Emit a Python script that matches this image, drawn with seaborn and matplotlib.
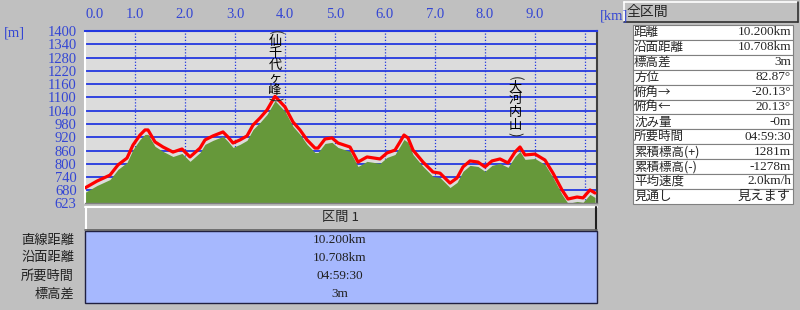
import numpy as np
import pandas as pd
import matplotlib
matplotlib.use("Agg")
import matplotlib.pyplot as plt
import seaborn as sns
from matplotlib.patches import Rectangle
from matplotlib.lines import Line2D

# ---------------- data ----------------
dist_km = [0.0, 0.24, 0.5, 0.66, 0.84, 0.96, 1.1, 1.2, 1.26, 1.4,
           1.56, 1.76, 1.94, 2.1, 2.3, 2.4, 2.56, 2.76, 2.86, 2.96,
           3.1, 3.24, 3.36, 3.5, 3.64, 3.8, 4.0, 4.16, 4.3, 4.44,
           4.6, 4.66, 4.8, 4.94, 5.06, 5.3, 5.46, 5.64, 5.9, 6.04,
           6.2, 6.3, 6.38, 6.46, 6.56, 6.76, 6.96, 7.1, 7.3, 7.44,
           7.56, 7.7, 7.86, 8.0, 8.14, 8.3, 8.46, 8.6, 8.7, 8.8,
           9.0, 9.2, 9.36, 9.54, 9.66, 9.84, 9.96, 10.1, 10.2]
elev_m = [691, 722, 749, 795, 826, 885, 930, 953, 953, 899,
          876, 853, 867, 831, 871, 908, 926, 944, 921, 894,
          908, 926, 975, 1007, 1043, 1105, 1057, 989, 953, 908,
          871, 871, 912, 917, 894, 876, 808, 831, 822, 849,
          862, 899, 930, 917, 862, 808, 763, 758, 713, 736,
          786, 813, 808, 786, 813, 822, 804, 853, 876, 840,
          844, 817, 758, 682, 641, 650, 646, 682, 668]

x_ticks = [0, 1, 2, 3, 4, 5, 6, 7, 8, 9]
x_tick_labels = ["0.0", "1.0", "2.0", "3.0", "4.0", "5.0", "6.0", "7.0", "8.0", "9.0"]
x_grid = [1, 2, 3, 4, 5, 6, 7, 8, 9, 10]
y_ticks = [1400, 1340, 1280, 1220, 1160, 1100, 1040, 980, 920, 860, 800, 740, 680, 623]
y_tick_labels = [str(v) for v in y_ticks]

peak_names = ["仙千代ヶ峰", "大河内山"]
peak_km = [3.8, 8.6]

summary_labels = ["距離", "沿面距離", "標高差", "方位", "俯角→", "俯角←", "沈み量",
                  "所要時間", "累積標高(+)", "累積標高(-)", "平均速度", "見通し"]
summary_values = ["10.200km", "10.708km", "3m", "82.87°", "-20.13°", "20.13°", "-0m",
                  "04:59:30", "1281m", "-1278m", "2.0km/h", "見えます"]

section_labels = ["直線距離", "沿面距離", "所要時間", "標高差"]
section_values = ["10.200km", "10.708km", "04:59:30", "3m"]

# ---------------- style ----------------
W, H = 800, 310
BG = "#c0c0c0"
PLOT_BG = "#dcdcdc"
BLUE = "#2438e0"
TICK_BLUE = "#3446d4"
GREEN = "#66983a"
RED = "#ff0000"
TABLE_BLUE = "#a6b8fe"
GROUND_GAP = 20

sns.set_style("white")
plt.rcParams["font.family"] = ["Liberation Serif", "Noto Sans CJK JP", "DejaVu Sans"]
JP = ["Noto Sans CJK JP", "DejaVu Sans"]
NUM = ["Liberation Serif", "Noto Sans CJK JP", "DejaVu Sans"]

fig = plt.figure(figsize=(W / 100, H / 100), dpi=100, facecolor=BG)


def fx(px):
    return px / W


def fy(py):
    return 1 - py / H


# ---------------- main profile ----------------
ax = fig.add_axes([fx(85), fy(203), 512 / W, 172 / H])
ax.set_facecolor(PLOT_BG)
df = pd.DataFrame({"dist": dist_km, "elev": elev_m})

ax.set_xlim(0, 10.24)
ax.set_ylim(623, 1400)
for y in y_ticks[:-1]:
    ax.axhline(y, color=BLUE, lw=1.3, zorder=1)
for x in x_grid:
    ax.axvline(x, color=BLUE, lw=0.9, ls=(0, (1, 1.5)), zorder=1)

ax.fill_between(df["dist"], 623, df["elev"] - GROUND_GAP, color=GREEN, lw=0, zorder=2)
sns.lineplot(data=df, x="dist", y="elev", ax=ax, color=RED, lw=2.3, zorder=3)
ax.set_xlabel("")
ax.set_ylabel("")

ax.xaxis.tick_top()
ax.set_xticks(x_ticks)
ax.set_xticklabels(x_tick_labels)
ax.set_yticks(y_ticks)
ax.set_yticklabels(y_tick_labels)
ax.tick_params(axis="x", length=0, pad=7, labelsize=10.5, labelcolor=TICK_BLUE)
ax.tick_params(axis="y", length=0, pad=6, labelsize=10.5, labelcolor=TICK_BLUE)
for lbl in ax.get_xticklabels():
    lbl.set_fontfamily(NUM)
for lbl in ax.get_yticklabels():
    lbl.set_fontfamily(NUM)
ax.get_xticklabels()[0].set_horizontalalignment("left")

ax.spines["top"].set_color(BLUE)
ax.spines["top"].set_linewidth(1.5)
ax.spines["left"].set_color("white")
ax.spines["left"].set_linewidth(1.5)
ax.spines["right"].set_color("#404040")
ax.spines["right"].set_linewidth(1.5)
ax.spines["bottom"].set_color("#808080")
ax.spines["bottom"].set_linewidth(1.0)

fig.text(fx(4), fy(33), "[m]", color=TICK_BLUE, fontsize=10.5, va="center", ha="left", family=NUM)
fig.text(fx(600), fy(16), "[km]", color=TICK_BLUE, fontsize=10.5, va="center", ha="left", family=NUM)

# vertical peak names (first char centre in px, spacing in px)
peak_first = [41, 87]
peak_step = [12.4, 12.8]
for name, xk, c0, st in zip(peak_names, peak_km, peak_first, peak_step):
    px = 85 + xk * 50
    chars = list(name)
    for i, ch in enumerate(chars):
        fig.text(fx(px), fy(c0 + i * st), ch, fontsize=9.5, family=JP,
                 ha="center", va="center", color="black", zorder=5)
    fig.text(fx(px), fy(c0 - 9), "(", fontsize=10, family=JP, rotation=-90,
             ha="center", va="center", zorder=5)
    fig.text(fx(px), fy(c0 + (len(chars) - 1) * st + 9), ")", fontsize=10, family=JP,
             rotation=-90, ha="center", va="center", zorder=5)

# ---------------- section table (bottom) ----------------
hdr = Rectangle((fx(85), fy(230)), 512 / W, 23 / H, transform=fig.transFigure,
                facecolor=BG, edgecolor="none", zorder=1)
fig.patches.append(hdr)
fig.lines.append(Line2D([fx(85), fx(597)], [fy(207), fy(207)], transform=fig.transFigure, color="white", lw=1.5))
fig.lines.append(Line2D([fx(86), fx(86)], [fy(207), fy(230)], transform=fig.transFigure, color="white", lw=1.5))
fig.lines.append(Line2D([fx(596), fx(596)], [fy(207), fy(230)], transform=fig.transFigure, color="#202020", lw=1.5))
fig.lines.append(Line2D([fx(85), fx(597)], [fy(230), fy(230)], transform=fig.transFigure, color="#606060", lw=1.2))
fig.text(fx(340), fy(218), "区間 1", fontsize=9.5, family=JP, ha="center", va="center")

body = Rectangle((fx(85), fy(303)), 512 / W, 72 / H, transform=fig.transFigure,
                 facecolor=TABLE_BLUE, edgecolor="#202040", lw=1.0, zorder=1)
fig.patches.append(body)
row_y = [240, 258, 276, 294]
for lab, val, py in zip(section_labels, section_values, row_y):
    fig.text(fx(74), fy(py), lab, fontsize=9.5, family=JP, ha="right", va="center", color="#202020")
    fig.text(fx(340), fy(py), val, fontsize=9.5, family=NUM, ha="center", va="center", color="#202020")

# ---------------- summary panel (right) ----------------
btn = Rectangle((fx(624), fy(22)), 174 / W, 20 / H, transform=fig.transFigure,
                facecolor=BG, edgecolor="none")
fig.patches.append(btn)
fig.lines.append(Line2D([fx(624), fx(798)], [fy(2), fy(2)], transform=fig.transFigure, color="white", lw=1.2))
fig.lines.append(Line2D([fx(624), fx(624)], [fy(2), fy(22)], transform=fig.transFigure, color="white", lw=1.2))
fig.lines.append(Line2D([fx(798), fx(798)], [fy(2), fy(22)], transform=fig.transFigure, color="#303030", lw=1.2))
fig.lines.append(Line2D([fx(624), fx(798)], [fy(22), fy(22)], transform=fig.transFigure, color="#303030", lw=1.2))
fig.text(fx(627), fy(12), "全区間", fontsize=10, family=JP, ha="left", va="center")

top0 = 25
rh = 14.9
for i, (lab, val) in enumerate(zip(summary_labels, summary_values)):
    t = top0 + i * rh
    cell = Rectangle((fx(633), fy(t + rh)), 160 / W, rh / H, transform=fig.transFigure,
                     facecolor="white", edgecolor="#808080", lw=0.8)
    fig.patches.append(cell)
    fig.text(fx(634), fy(t + rh / 2), lab, fontsize=9, family=JP, ha="left", va="center")
    fig.text(fx(791), fy(t + rh / 2), val, fontsize=9.5, family=NUM, ha="right", va="center")

fig.savefig("out.png", dpi=100, facecolor=BG)
